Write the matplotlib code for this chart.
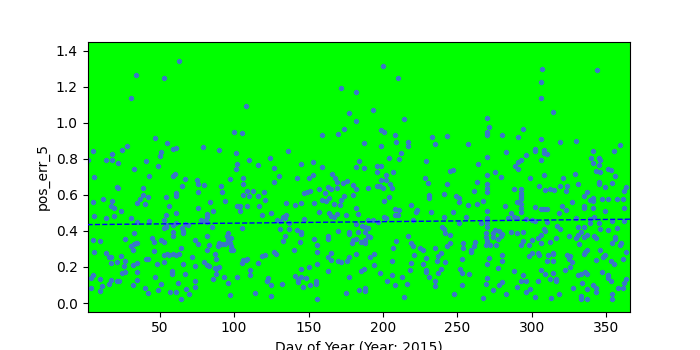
import matplotlib
matplotlib.use("Agg")
import matplotlib.pyplot as plt
import numpy as np

# (day of year, pos_err_5), grouped by season
days_1_62 = [(34,1.263),(53,1.25),(31,1.139),(63,1.345),(47,0.917),(55,0.889),(5,0.844),(28,0.872),(25,0.85),(51,0.839),
    (50,0.817),(59,0.856),(61,0.861),(18,0.828),(14,0.794),(18,0.794),(22,0.778),(2,0.794),(41,0.789),(33,0.744),
    (49,0.761),(6,0.698),(43,0.706),(59,0.706),(60,0.713),(21,0.643),(22,0.637),(39,0.639),(5,0.561),(12,0.578),
    (18,0.567),(17,0.539),(19,0.528),(24,0.511),(35,0.556),(37,0.578),(39,0.598),(42,0.589),(40,0.55),(54,0.589),
    (61,0.611),(61,0.594),(56,0.539),(61,0.5),(6,0.483),(14,0.472),(19,0.483),(31,0.472),(35,0.45),(54,0.489),
    (53,0.461),(43,0.456),(53,0.417),(54,0.422),(54,0.433),(59,0.433),(61,0.444),(5,0.35),(10,0.344),(27,0.356),
    (33,0.389),(45,0.361),(46,0.339),(51,0.35),(53,0.339),(59,0.372),(59,0.394),(6,0.283),(31,0.317),(33,0.328),
    (34,0.333),(35,0.333),(32,0.294),(14,0.278),(16,0.256),(17,0.256),(17,0.222),(21,0.228),(24,0.261),(27,0.233),
    (26,0.206),(25,0.167),(27,0.172),(32,0.211),(35,0.222),(35,0.172),(41,0.244),(42,0.244),(46,0.289),(53,0.267),
    (56,0.267),(55,0.272),(48,0.217),(61,0.267),(59,0.272),(53,0.228),(58,0.178),(58,0.161),(4,0.139),(5,0.156),
    (10,0.133),(11,0.094),(16,0.106),(17,0.128),(21,0.122),(23,0.122),(32,0.1),(35,0.128),(47,0.144),(51,0.106),
    (49,0.072),(40,0.083),(42,0.056),(4,0.083),(10,0.067),(57,0.061),(61,0.061),(62,0.111)]

days_63_122 = [(108,1.094),(100,0.95),(105,0.944),(79,0.867),(90,0.85),(101,0.833),(110,0.794),(102,0.772),(101,0.744),
    (116,0.767),(67,0.689),(75,0.683),(97,0.689),(106,0.694),(76,0.661),(80,0.656),(106,0.661),(65,0.65),(76,0.617),
    (91,0.65),(92,0.617),(109,0.622),(113,0.622),(120,0.617),(106,0.6),(110,0.594),(116,0.594),(121,0.572),(84,0.561),
    (94,0.567),(102,0.539),(104,0.539),(104,0.511),(109,0.539),(117,0.539),(76,0.528),(86,0.511),(119,0.489),(82,0.494),
    (82,0.477),(78,0.461),(80,0.455),(82,0.45),(67,0.439),(69,0.433),(65,0.417),(66,0.4),(66,0.389),(85,0.422),
    (105,0.417),(96,0.389),(95,0.372),(96,0.35),(97,0.333),(98,0.317),(98,0.294),(99,0.294),(94,0.328),(92,0.328),
    (90,0.333),(89,0.317),(96,0.339),(98,0.361),(82,0.372),(74,0.35),(76,0.328),(83,0.322),(82,0.294),(64,0.306),
    (63,0.272),(87,0.272),(88,0.244),(72,0.256),(105,0.222),(106,0.239),(108,0.239),(109,0.244),(119,0.261),(121,0.267),
    (116,0.222),(66,0.217),(74,0.205),(80,0.228),(82,0.211),(83,0.205),(87,0.194),(90,0.2),(88,0.189),(111,0.183),
    (111,0.156),(67,0.161),(88,0.161),(86,0.133),(93,0.144),(102,0.144),(74,0.122),(96,0.111),(122,0.122),(68,0.078),
    (70,0.05),(64,0.022),(74,0.089),(97,0.044),(114,0.056)]

days_123_182 = [(124,0.806),(172,1.194),(182,1.172),(177,1.056),(182,1.011),(174,0.967),(170,0.939),(159,0.933),(136,0.844),
    (127,0.75),(145,0.772),(153,0.783),(159,0.756),(182,0.756),(130,0.706),(153,0.711),(150,0.694),(142,0.694),
    (166,0.717),(168,0.694),(127,0.672),(169,0.672),(173,0.667),(176,0.678),(180,0.655),(182,0.633),(157,0.633),
    (161,0.611),(163,0.644),(165,0.633),(169,0.639),(147,0.611),(149,0.617),(151,0.622),(180,0.6),(159,0.572),
    (162,0.567),(164,0.583),(174,0.594),(172,0.572),(135,0.555),(141,0.544),(145,0.555),(154,0.555),(167,0.55),
    (171,0.544),(182,0.528),(157,0.506),(164,0.5),(165,0.483),(167,0.478),(169,0.494),(175,0.489),(125,0.5),
    (133,0.478),(135,0.489),(134,0.472),(129,0.461),(131,0.455),(147,0.466),(137,0.444),(137,0.411),(131,0.411),
    (142,0.405),(145,0.394),(145,0.383),(134,0.372),(133,0.344),(144,0.339),(154,0.355),(156,0.322),(156,0.283),
    (163,0.372),(163,0.355),(170,0.4),(177,0.394),(177,0.383),(180,0.35),(182,0.355),(179,0.333),(140,0.294),
    (127,0.283),(128,0.272),(163,0.256),(165,0.239),(170,0.233),(172,0.228),(176,0.233),(177,0.256),(165,0.278),
    (182,0.272),(156,0.217),(150,0.2),(145,0.189),(163,0.178),(141,0.15),(143,0.133),(143,0.117),(145,0.144),
    (148,0.139),(123,0.139),(122,0.122),(125,0.1),(132,0.106),(146,0.088),(151,0.1),(155,0.122),(155,0.106),
    (177,0.144),(175,0.056),(125,0.039),(156,0.022)]

days_183_243 = [(200,1.317),(210,1.25),(193,1.072),(214,1.022),(199,0.961),(201,0.95),(208,0.933),(187,0.889),(199,0.872),
    (209,0.894),(217,0.894),(217,0.872),(233,0.922),(235,0.883),(243,0.928),(212,0.833),(204,0.806),(211,0.8),
    (184,0.789),(187,0.75),(196,0.761),(199,0.761),(196,0.728),(207,0.728),(202,0.711),(229,0.789),(228,0.694),
    (199,0.683),(202,0.683),(205,0.661),(196,0.65),(198,0.65),(200,0.639),(206,0.639),(190,0.639),(230,0.667),
    (243,0.661),(241,0.605),(231,0.6),(231,0.583),(204,0.589),(201,0.567),(219,0.544),(223,0.516),(222,0.506),
    (232,0.506),(183,0.494),(208,0.522),(211,0.516),(208,0.489),(210,0.489),(201,0.478),(202,0.472),(190,0.461),
    (193,0.461),(197,0.45),(220,0.461),(241,0.477),(240,0.422),(241,0.411),(242,0.389),(182,0.439),(186,0.428),
    (188,0.422),(190,0.417),(183,0.394),(188,0.394),(190,0.372),(191,0.367),(185,0.339),(187,0.339),(188,0.333),
    (188,0.35),(191,0.256),(194,0.272),(194,0.211),(185,0.178),(187,0.189),(198,0.167),(206,0.233),(207,0.306),
    (209,0.344),(217,0.372),(219,0.333),(220,0.317),(221,0.267),(219,0.222),(218,0.183),(225,0.306),(227,0.294),
    (229,0.25),(227,0.217),(229,0.183),(229,0.172),(231,0.144),(235,0.306),(237,0.261),(239,0.278),(236,0.233),
    (239,0.189),(237,0.167),(235,0.122),(235,0.094),(243,0.317),(242,0.228),(213,0.144),(216,0.106),(206,0.156),
    (203,0.122),(208,0.1),(184,0.072),(188,0.067),(188,0.083),(214,0.033)]

days_244_304 = [(270,1.028),(271,0.978),(270,0.95),(270,0.933),(294,0.967),(280,0.933),(291,0.922),(257,0.883),(283,0.839),
    (302,0.856),(302,0.844),(296,0.822),(270,0.811),(293,0.794),(291,0.783),(289,0.761),(291,0.744),(264,0.772),
    (245,0.733),(247,0.739),(270,0.711),(275,0.728),(279,0.7),(299,0.694),(263,0.672),(270,0.661),(270,0.639),
    (270,0.617),(261,0.622),(288,0.633),(293,0.633),(293,0.611),(293,0.594),(293,0.578),(293,0.55),(293,0.528),
    (293,0.506),(249,0.594),(251,0.583),(251,0.561),(263,0.55),(267,0.567),(257,0.544),(282,0.539),(290,0.561),
    (302,0.533),(247,0.506),(270,0.511),(270,0.472),(270,0.444),(270,0.422),(256,0.477),(286,0.5),(284,0.472),
    (288,0.477),(290,0.472),(296,0.467),(300,0.461),(302,0.455),(251,0.444),(266,0.444),(275,0.405),(274,0.389),
    (278,0.4),(280,0.383),(279,0.372),(277,0.355),(274,0.367),(269,0.389),(269,0.367),(270,0.344),(269,0.322),
    (272,0.322),(276,0.322),(245,0.38),(245,0.333),(254,0.333),(254,0.306),(262,0.339),(261,0.317),(259,0.294),
    (259,0.283),(286,0.394),(290,0.389),(294,0.394),(294,0.344),(293,0.322),(304,0.361),(300,0.35),(298,0.322),
    (298,0.261),(300,0.278),(304,0.278),(271,0.25),(270,0.217),(280,0.267),(280,0.233),(277,0.194),(253,0.244),
    (252,0.189),(253,0.167),(258,0.161),(288,0.178),(294,0.156),(293,0.122),(296,0.122),(270,0.139),(269,0.105),
    (278,0.1),(280,0.117),(253,0.1),(290,0.088),(296,0.061),(299,0.078),(274,0.072),(283,0.05),(248,0.05),
    (267,0.028),(302,0.033)]

days_305_365 = [(307,1.3),(344,1.294),(306,1.228),(306,1.139),(314,1.061),(306,0.911),(319,0.894),(330,0.9),(359,0.878),
    (341,0.844),(355,0.844),(308,0.85),(310,0.828),(308,0.833),(306,0.794),(340,0.806),(341,0.778),(345,0.806),
    (346,0.794),(345,0.767),(343,0.733),(346,0.728),(351,0.744),(353,0.739),(356,0.706),(308,0.711),(321,0.694),
    (329,0.717),(345,0.672),(345,0.661),(354,0.667),(349,0.644),(363,0.644),(362,0.622),(305,0.65),(309,0.628),
    (312,0.633),(315,0.628),(319,0.65),(324,0.65),(323,0.622),(331,0.661),(337,0.617),(335,0.594),(339,0.572),
    (341,0.583),(341,0.567),(335,0.539),(335,0.528),(341,0.528),(349,0.511),(347,0.578),(351,0.578),(357,0.578),
    (361,0.578),(362,0.528),(320,0.539),(323,0.517),(318,0.5),(306,0.522),(308,0.522),(310,0.522),(327,0.561),
    (330,0.472),(331,0.422),(335,0.422),(339,0.467),(342,0.477),(339,0.444),(345,0.444),(346,0.411),(351,0.405),
    (357,0.417),(354,0.455),(362,0.455),(310,0.45),(317,0.428),(319,0.411),(308,0.411),(309,0.4),(306,0.377),
    (306,0.333),(312,0.339),(316,0.361),(325,0.372),(331,0.377),(333,0.394),(330,0.361),(332,0.328),(335,0.367),
    (337,0.377),(336,0.283),(337,0.294),(335,0.272),(342,0.372),(343,0.361),(354,0.333),(356,0.367),(356,0.356),
    (359,0.322),(360,0.333),(346,0.294),(363,0.283),(305,0.267),(311,0.267),(314,0.278),(314,0.272),(310,0.233),
    (314,0.233),(324,0.267),(326,0.261),(325,0.244),(327,0.228),(326,0.2),(348,0.256),(349,0.267),(343,0.239),
    (353,0.233),(355,0.217),(361,0.244),(306,0.183),(322,0.183),(309,0.161),(314,0.167),(331,0.156),(333,0.161),
    (336,0.172),(337,0.161),(347,0.172),(351,0.156),(351,0.139),(353,0.122),(362,0.111),(363,0.133),(304,0.122),
    (312,0.133),(316,0.122),(316,0.133),(334,0.111),(328,0.083),(337,0.078),(341,0.1),(343,0.083),(343,0.061),
    (358,0.083),(361,0.083),(354,0.05),(354,0.022),(333,0.039),(333,0.022),(337,0.022),(313,0.028),(318,0.05)]

trend_days = [1.5, 366]
trend_vals = [0.435, 0.465]

all_pts = np.array(days_1_62 + days_63_122 + days_123_182 + days_183_243 + days_244_304 + days_305_365)
doy = all_pts[:, 0]
err = all_pts[:, 1]

fig, ax = plt.subplots(figsize=(7, 3.5), dpi=100)
ax.set_facecolor('#00ff00')
ax.scatter(doy, err, marker='P', s=9, color='#3a78c8', edgecolors='#3a78c8', linewidths=0.9, zorder=2)
ax.plot(trend_days, trend_vals, '--', color='#0000ff', lw=1.0, zorder=3)
ax.set_xlim(1.5, 366)
ax.set_ylim(-0.047, 1.448)
ax.set_xticks([50, 100, 150, 200, 250, 300, 350])
ax.set_yticks([0.0, 0.2, 0.4, 0.6, 0.8, 1.0, 1.2, 1.4])
ax.set_xlabel('Day of Year (Year: 2015)')
ax.set_ylabel('pos_err_5')
fig.savefig('out.png', dpi=100)
